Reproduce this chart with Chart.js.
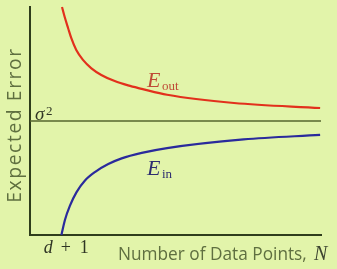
<!DOCTYPE html>
<html>
<head>
<meta charset="utf-8">
<script src="https://cdn.jsdelivr.net/npm/chart.js"></script>
<style>
  html, body { margin:0; padding:0; background:#e2f4aa; }
  canvas { display:block; }
</style>
</head>
<body>
<canvas id="grafica" width="337" height="269"></canvas>
<script>
// curvas de aprendizaje
const nOut = [11.0, 11.9, 13.1, 14.2, 15.9, 18.2, 21.1, 24.5, 29.1, 33.7, 38.4, 47.1, 70.1, 99.7];
const eOut = [1.0, 0.957, 0.907, 0.863, 0.811, 0.768, 0.731, 0.702, 0.675, 0.656, 0.641, 0.615, 0.579, 0.557];
const nIn = [10.8, 12.0, 13.7, 16.0, 18.9, 22.3, 26.9, 31.5, 38.4, 47.1, 73.4, 99.7];
const eIn = [0, 0.066, 0.128, 0.188, 0.239, 0.276, 0.311, 0.336, 0.360, 0.381, 0.419, 0.439];
const sigma2 = 0.5;
const rangoN = [0, 100];
const rangoE = [0, 1];
const dMas1 = 10.9;

function puntos(xs, ys){
    var arr = [];
    for (var i = 0; i < xs.length; i++){
        arr.push({x: xs[i], y: ys[i]});
    }
    return arr;
}

// tamaño de letra para que el texto ocupe un ancho dado
function tamanoAjustado(ctx, texto, familia, ancho){
    ctx.font = '100px ' + familia;
    return 100 * ancho / ctx.measureText(texto).width;
}

const etiquetas = {
    id: 'etiquetas',
    afterDatasetsDraw(chart){
        const ctx = chart.ctx;
        const xs = chart.scales.x;
        const ys = chart.scales.y;
        ctx.save();
        ctx.textAlign = 'left';
        ctx.textBaseline = 'alphabetic';

        // titulo eje x
        var txt = 'Number of Data Points,';
        var t = tamanoAjustado(ctx, txt, '"Open Sans"', 189);
        ctx.fillStyle = '#5f6f40';
        ctx.font = t + 'px "Open Sans"';
        ctx.fillText(txt, 118, 260);
        ctx.fillStyle = '#3c4430';
        ctx.font = 'italic 20px "Liberation Serif"';
        ctx.fillText('N', 314, 260);

        // titulo eje y, algo mayor y con poco espaciado
        ctx.save();
        ctx.font = (t * 1.12) + 'px "Open Sans"';
        var yt = 'Expected Error';
        var w = ctx.measureText(yt).width;
        ctx.letterSpacing = ((154 - w) / (yt.length - 1)) + 'px';
        ctx.translate(21, 125);
        ctx.rotate(-Math.PI/2);
        ctx.textAlign = 'center';
        ctx.fillStyle = '#5f6f40';
        ctx.fillText(yt, 0, 0);
        ctx.restore();

        // sigma^2
        var ySig = ys.getPixelForValue(sigma2);
        ctx.fillStyle = '#2f3524';
        ctx.font = 'italic 19px "Liberation Serif"';
        ctx.fillText('σ', xs.left + 5, ySig - 1);
        ctx.font = '13px "Liberation Serif"';
        ctx.fillText('2', xs.left + 16, ySig - 6);

        // d + 1
        var xd = xs.getPixelForValue(dMas1);
        var yb = ys.getPixelForValue(0) + 18;
        ctx.font = 'italic 18px "Liberation Serif"';
        ctx.fillText('d', xd - 18, yb);
        ctx.font = '18px "Liberation Serif"';
        ctx.fillText('+', xd - 1, yb);
        ctx.fillText('1', xd + 18, yb);

        // E_out
        ctx.fillStyle = '#bf4a36';
        ctx.font = 'italic 22px "Liberation Serif"';
        ctx.fillText('E', 147, 87);
        ctx.font = '13px "Liberation Serif"';
        ctx.fillText('out', 162, 90);

        // E_in
        ctx.fillStyle = '#2e2e70';
        ctx.font = 'italic 22px "Liberation Serif"';
        ctx.fillText('E', 147, 175);
        ctx.font = '13px "Liberation Serif"';
        ctx.fillText('in', 162, 178);

        ctx.restore();
    }
};

var config = {
    type: 'line',
    data: {
        datasets: [{
            label: 'sigma2',
            data: [{x: rangoN[0], y: sigma2}, {x: rangoN[1], y: sigma2}],
            borderColor: '#56662e',
            borderWidth: 1.5,
            pointRadius: 0
        }, {
            label: 'Eout',
            data: puntos(nOut, eOut),
            borderColor: '#e2301c',
            borderWidth: 2.2,
            pointRadius: 0,
            cubicInterpolationMode: 'monotone'
        }, {
            label: 'Ein',
            data: puntos(nIn, eIn),
            borderColor: '#2a2a9c',
            borderWidth: 2.2,
            pointRadius: 0,
            cubicInterpolationMode: 'monotone'
        }]
    },
    options: {
        responsive: false,
        animation: false,
        devicePixelRatio: 1,
        clip: false,
        layout: {
            padding: {left: 30, top: 7, right: 16, bottom: 34}
        },
        scales: {
            x: {
                type: 'linear',
                min: rangoN[0],
                max: rangoN[1],
                grid: {display: false, drawTicks: false},
                ticks: {display: false},
                border: {display: true, color: '#2f3d1c', width: 2}
            },
            y: {
                type: 'linear',
                min: rangoE[0],
                max: rangoE[1],
                grid: {display: false, drawTicks: false},
                ticks: {display: false},
                border: {display: true, color: '#2f3d1c', width: 2}
            }
        },
        plugins: {
            legend: {display: false},
            tooltip: {enabled: false}
        }
    },
    plugins: [etiquetas]
};

var myChart = new Chart(document.getElementById('grafica'), config);
</script>
</body>
</html>
